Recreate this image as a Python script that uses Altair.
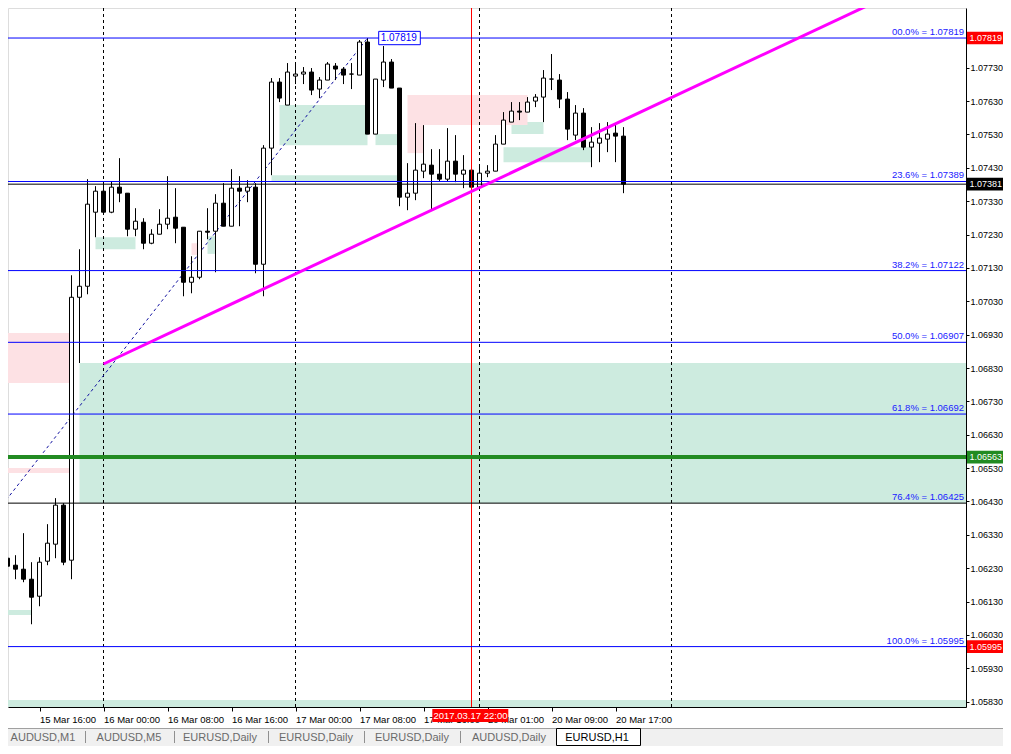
import altair as alt
import pandas as pd

FONT = "Liberation Sans"

# ---------------- data ----------------
bar_index = list(range(-12, 66))  # hourly bars, 0 = 16 Mar 00:00
open_p = [1.06260, 1.06239, 1.06227, 1.06197, 1.06146, 1.06251, 1.06302, 1.06419, 1.06254, 1.07042, 1.07075, 1.07297,
          1.07360, 1.07297, 1.07372, 1.07354, 1.07246, 1.07267, 1.07204, 1.07231, 1.07261, 1.07282,
          1.07252, 1.07087, 1.07102, 1.07240, 1.07240, 1.07324, 1.07255, 1.07369, 1.07360, 1.07372,
          1.07141, 1.07489, 1.07687, 1.07618, 1.07705, 1.07711, 1.07717, 1.07666, 1.07693, 1.07735,
          1.07726, 1.07711, 1.07708, 1.07807, 1.07531, 1.07693, 1.07747, 1.07669, 1.07342, 1.07354,
          1.07420, 1.07438, 1.07411, 1.07396, 1.07450, 1.07411, 1.07423, 1.07372, 1.07414, 1.07420,
          1.07501, 1.07567, 1.07600, 1.07597, 1.07630, 1.07642, 1.07696, 1.07693, 1.07636, 1.07528,
          1.07594, 1.07492, 1.07504, 1.07516, 1.07534, 1.07525]
high_p = [1.06290, 1.06269, 1.06335, 1.06248, 1.06263, 1.06362, 1.06440, 1.06425, 1.07108, 1.07186, 1.07396, 1.07375,
          1.07384, 1.07390, 1.07459, 1.07354, 1.07309, 1.07279, 1.07246, 1.07306, 1.07405, 1.07369,
          1.07252, 1.07165, 1.07240, 1.07309, 1.07351, 1.07384, 1.07426, 1.07405, 1.07393, 1.07384,
          1.07498, 1.07699, 1.07699, 1.07744, 1.07741, 1.07732, 1.07729, 1.07702, 1.07747, 1.07744,
          1.07732, 1.07744, 1.07813, 1.07819, 1.07696, 1.07795, 1.07756, 1.07669, 1.07444, 1.07564,
          1.07558, 1.07486, 1.07486, 1.07549, 1.07528, 1.07468, 1.07429, 1.07438, 1.07438, 1.07528,
          1.07597, 1.07627, 1.07627, 1.07642, 1.07651, 1.07723, 1.07771, 1.07711, 1.07657, 1.07618,
          1.07609, 1.07552, 1.07564, 1.07567, 1.07564, 1.07552]
low_p = [1.06173, 1.06197, 1.06188, 1.06062, 1.06116, 1.06239, 1.06260, 1.06239, 1.06197, 1.06845, 1.07051, 1.07222,
         1.07291, 1.07294, 1.07327, 1.07225, 1.07225, 1.07186, 1.07201, 1.07231, 1.07246, 1.07204,
         1.07045, 1.07054, 1.07096, 1.07216, 1.07117, 1.07255, 1.07255, 1.07255, 1.07327, 1.07114,
         1.07045, 1.07408, 1.07627, 1.07618, 1.07681, 1.07681, 1.07648, 1.07639, 1.07693, 1.07693,
         1.07681, 1.07666, 1.07708, 1.07531, 1.07531, 1.07672, 1.07669, 1.07315, 1.07303, 1.07333,
         1.07399, 1.07303, 1.07390, 1.07390, 1.07387, 1.07369, 1.07369, 1.07363, 1.07402, 1.07420,
         1.07501, 1.07567, 1.07573, 1.07597, 1.07612, 1.07567, 1.07663, 1.07609, 1.07513, 1.07513,
         1.07483, 1.07432, 1.07447, 1.07477, 1.07447, 1.07354]
close_p = [1.06236, 1.06227, 1.06197, 1.06143, 1.06248, 1.06305, 1.06419, 1.06248, 1.07042, 1.07075, 1.07321, 1.07360,
           1.07297, 1.07372, 1.07354, 1.07246, 1.07270, 1.07204, 1.07231, 1.07261, 1.07279, 1.07249,
           1.07087, 1.07102, 1.07240, 1.07237, 1.07324, 1.07255, 1.07369, 1.07360, 1.07372, 1.07141,
           1.07489, 1.07687, 1.07639, 1.07717, 1.07711, 1.07717, 1.07663, 1.07693, 1.07741, 1.07726,
           1.07708, 1.07711, 1.07807, 1.07531, 1.07696, 1.07747, 1.07669, 1.07342, 1.07354, 1.07423,
           1.07441, 1.07411, 1.07396, 1.07450, 1.07411, 1.07423, 1.07372, 1.07414, 1.07420, 1.07501,
           1.07573, 1.07600, 1.07597, 1.07627, 1.07642, 1.07699, 1.07696, 1.07636, 1.07546, 1.07594,
           1.07492, 1.07507, 1.07519, 1.07531, 1.07525, 1.07381]

time_tick_bars = [-16, -8, 0, 8, 16, 24, 32, 40, 48, 56, 64]
time_tick_labels = ["15 Mar 08:00", "15 Mar 16:00", "16 Mar 00:00", "16 Mar 08:00", "16 Mar 16:00", "17 Mar 00:00",
                    "17 Mar 08:00", "17 Mar 16:00", "20 Mar 01:00", "20 Mar 09:00", "20 Mar 17:00"]
price_ticks = [1.05830, 1.05930, 1.06030, 1.06130, 1.06230, 1.06330, 1.06430, 1.06530, 1.06630, 1.06730,
               1.06830, 1.06930, 1.07030, 1.07130, 1.07230, 1.07330, 1.07430, 1.07530, 1.07630, 1.07730]

fib_pct = ["00.0%", "23.6%", "38.2%", "50.0%", "61.8%", "76.4%", "100.0%"]
fib_price = [1.07819, 1.07389, 1.07122, 1.06907, 1.06692, 1.06425, 1.05995]
fib_line_color = ["#0000FF", "#0000FF", "#0000FF", "#0000FF", "#0000FF", "#000000", "#0000FF"]

black_hlines = [1.07381]
green_level = [1.06563]
day_separators = [0, 24, 47, 71]
red_vline_bar = [46]
red_vline_label = ["2017.03.17 22:00"]

trend_bars = [0, 97]
trend_prices = [1.06842, 1.07933]
fib_diag_bars = [-26.5, 33]
fib_diag_prices = [1.05995, 1.07819]

green_i0 = [-3, -1, 13, 22, 34, 21, 51, 50, -14, -14]
green_i1 = [110, 4, 14, 33, 37, 37, 55, 61, -9, 110]
green_hi = [1.06845, 1.07222, 1.07225, 1.07618, 1.07531, 1.07408, 1.07567, 1.07492, 1.06105, 1.05835]
green_lo = [1.06425, 1.07186, 1.07172, 1.07498, 1.07498, 1.07390, 1.07531, 1.07447, 1.06090, 1.05790]

pink_i0 = [-14, -14, 38, 38, 11]
pink_i1 = [-4, -4, 53, 40, 12]
pink_hi = [1.06935, 1.06530, 1.07648, 1.07558, 1.07204]
pink_lo = [1.06785, 1.06515, 1.07558, 1.07474, 1.07169]

box_prices = [1.07819, 1.07381, 1.06563, 1.05995]
box_colors = ["#FF0000", "#000000", "#228B22", "#FF0000"]

high_label_bar = [34.4]
high_label_end = [39.6]
high_label_price = [1.07819]

tab_names = ["AUDUSD,M1", "AUDUSD,M5", "EURUSD,Daily", "EURUSD,Daily", "EURUSD,Daily", "AUDUSD,Daily", "EURUSD,H1"]
tab_active = [False, False, False, False, False, False, True]

# ---------------- layout ----------------
W, H = 958, 699
xs = alt.Scale(domain=[-11.9375, 107.8125], nice=False, zero=False)
ys = alt.Scale(domain=[1.05814, 1.07909], nice=False, zero=False)

label_expr = "[" + ",".join("'%s'" % s for s in time_tick_labels) + "][indexof([" + \
    ",".join(str(v) for v in time_tick_bars) + "], datum.value)]"

x_axis = alt.Axis(orient="bottom", values=time_tick_bars, labelExpr=label_expr, labelAlign="left",
                  labelBaseline="top", labelPadding=3, tickSize=4, tickColor="black", domainColor="black",
                  labelColor="black", labelFont=FONT, labelFontSize=9.5, grid=False,
                  labelOverlap=False, labelFlush=False, labelBound=False)
y_axis = alt.Axis(orient="right", values=price_ticks, format=".5f", labelAlign="left", labelBaseline="middle",
                  labelPadding=1, tickSize=3, tickColor="black", domainColor="black", labelColor="black",
                  labelFont=FONT, labelFontSize=9, grid=False, labelOverlap=False, labelFlush=False,
                  labelBound=False)


def X(f):
    return alt.X(f, scale=xs, axis=x_axis, title=None)


def Y(f):
    return alt.Y(f, scale=ys, axis=y_axis, title=None)


candles = pd.DataFrame({"i": bar_index, "o": open_p, "h": high_p, "l": low_p, "c": close_p})
zones_g = pd.DataFrame({"i0": green_i0, "i1": green_i1, "hi": green_hi, "lo": green_lo})
zones_p = pd.DataFrame({"i0": pink_i0, "i1": pink_i1, "hi": pink_hi, "lo": pink_lo})
fib = pd.DataFrame({"pct": fib_pct, "p": fib_price, "col": fib_line_color})
fib["txt"] = fib["pct"] + " = " + fib["p"].map(lambda v: "%.5f" % v)

layers = []

# zones
layers.append(alt.Chart(zones_g).mark_rect(color="#CDEBDF", clip=True).encode(
    x=X("i0:Q"), x2="i1:Q", y=Y("hi:Q"), y2="lo:Q"))
layers.append(alt.Chart(zones_p).mark_rect(color="#FDE1E4", clip=True).encode(
    x=X("i0:Q"), x2="i1:Q", y=Y("hi:Q"), y2="lo:Q"))

# day separators
layers.append(alt.Chart(pd.DataFrame({"i": day_separators})).mark_rule(
    color="black", strokeDash=[3, 3], strokeWidth=1).encode(x=X("i:Q")))

# fib diagonal
layers.append(alt.Chart(pd.DataFrame({"i": fib_diag_bars, "p": fib_diag_prices})).mark_line(
    color="#1010A0", strokeDash=[3, 3], strokeWidth=1, clip=True).encode(x=X("i:Q"), y=Y("p:Q")))

# candles
layers.append(alt.Chart(candles).mark_rule(color="black", strokeWidth=1, clip=True).encode(
    x=X("i:Q"), y=Y("l:Q"), y2="h:Q"))
layers.append(alt.Chart(candles).transform_calculate(
    x1="datum.i - 0.25", x2="datum.i + 0.25", lo="min(datum.o, datum.c)", hi="max(datum.o, datum.c)"
).mark_rect(stroke="black", strokeWidth=1, clip=True).encode(
    x=X("x1:Q"), x2="x2:Q", y=Y("hi:Q"), y2="lo:Q",
    fill=alt.condition("datum.c > datum.o", alt.value("white"), alt.value("black"))))

# red vertical line (on top of candles)
layers.append(alt.Chart(pd.DataFrame({"i": red_vline_bar})).mark_rule(
    stroke="#FF0000", strokeWidth=1, opacity=1).encode(x=X("i:Q")))

# horizontal levels
layers.append(alt.Chart(fib).mark_rule(strokeWidth=1).encode(
    y=Y("p:Q"), color=alt.Color("col:N", scale=None)))
layers.append(alt.Chart(pd.DataFrame({"p": black_hlines})).mark_rule(color="black", strokeWidth=1).encode(
    y=Y("p:Q")))
layers.append(alt.Chart(pd.DataFrame({"p": green_level})).mark_rule(color="#228B22", strokeWidth=4).encode(
    y=Y("p:Q")))
layers.append(alt.Chart(fib).mark_text(align="right", baseline="bottom", dy=-1, font=FONT, fontSize=9.5,
                                       color="#1A1AFF").encode(x=alt.value(956), y=Y("p:Q"), text="txt:N"))

# trend line
layers.append(alt.Chart(pd.DataFrame({"i": trend_bars, "p": trend_prices})).mark_line(
    color="#FF00FF", strokeWidth=3, clip=True).encode(x=X("i:Q"), y=Y("p:Q")))

# high price label on chart
hl = pd.DataFrame({"i0": high_label_bar, "i1": high_label_end, "p": high_label_price})
layers.append(alt.Chart(hl).transform_calculate(t="datum.p + 0.0002", b="datum.p - 0.0002").mark_rect(
    fill="white", stroke="#0000FF", strokeWidth=1).encode(x=X("i0:Q"), x2="i1:Q", y=Y("t:Q"), y2="b:Q"))
layers.append(alt.Chart(hl).mark_text(align="left", baseline="middle", dx=2, font=FONT, fontSize=10,
                                      color="#0000FF", text="1.07819").encode(x=X("i0:Q"), y=Y("p:Q")))

# price boxes on right axis
bx = pd.DataFrame({"p": box_prices, "col": box_colors})
bx["txt"] = bx["p"].map(lambda v: "%.5f" % v)
layers.append(alt.Chart(bx).transform_calculate(t="datum.p + 0.00019", b="datum.p - 0.00019").mark_rect().encode(
    x=alt.value(959), x2=alt.value(995), y=Y("t:Q"), y2="b:Q", fill=alt.Color("col:N", scale=None)))
layers.append(alt.Chart(bx).mark_text(align="left", baseline="middle", font=FONT, fontSize=9,
                                      color="white").encode(x=alt.value(961.5), y=Y("p:Q"), text="txt:N"))

# red time label box
rl = pd.DataFrame({"i": red_vline_bar, "txt": red_vline_label})
layers.append(alt.Chart(rl).transform_calculate(a="datum.i - 4.9", b="datum.i + 4.6").mark_rect(
    color="#FF0000").encode(x=X("a:Q"), x2="b:Q", y=alt.value(701), y2=alt.value(714)))
layers.append(alt.Chart(rl).mark_text(align="center", baseline="middle", font=FONT, fontSize=9.5,
                                      color="white", dx=-1).encode(x=X("i:Q"), y=alt.value(707.5), text="txt:N"))

# tab bar
one = pd.DataFrame({"a": [0]})
layers.append(alt.Chart(one).mark_rect(color="#F0F0F0").encode(
    x=alt.value(0), x2=alt.value(995), y=alt.value(720), y2=alt.value(738)))
layers.append(alt.Chart(one).mark_rule(color="#A0A0A0").encode(
    x=alt.value(0), x2=alt.value(995), y=alt.value(720.5)))
tab_x = [35, 121, 212, 308, 404, 501, 589]
sep_x = [77.5, 166.5, 260.5, 356.5, 452.5]
layers.append(alt.Chart(one).mark_rect(fill="white", stroke="black", strokeWidth=1).encode(
    x=alt.value(548.5), x2=alt.value(632.5), y=alt.value(720.5), y2=alt.value(737.5)))
layers.append(alt.Chart(pd.DataFrame({"sx": sep_x})).mark_rule(color="#909090").encode(
    x=alt.X("sx:Q", scale=None, axis=None), y=alt.value(723), y2=alt.value(735)))
tabs = pd.DataFrame({"tx": tab_x, "name": tab_names,
                     "col": ["black" if a else "#6A6A6A" for a in tab_active]})
layers.append(alt.Chart(tabs).mark_text(align="center", baseline="middle", font=FONT, fontSize=11).encode(
    x=alt.X("tx:Q", scale=None, axis=None), y=alt.value(729.5), text="name:N",
    color=alt.Color("col:N", scale=None)))

chart = alt.layer(*layers).properties(
    width=W, height=H,
    autosize=alt.AutoSizeParams(type="none"),
    padding={"left": 0, "top": 0, "right": 37, "bottom": 39},
).configure_view(stroke=None).configure(background="white")

chart.save("out.html", embed_options={"renderer": "svg", "actions": False})
